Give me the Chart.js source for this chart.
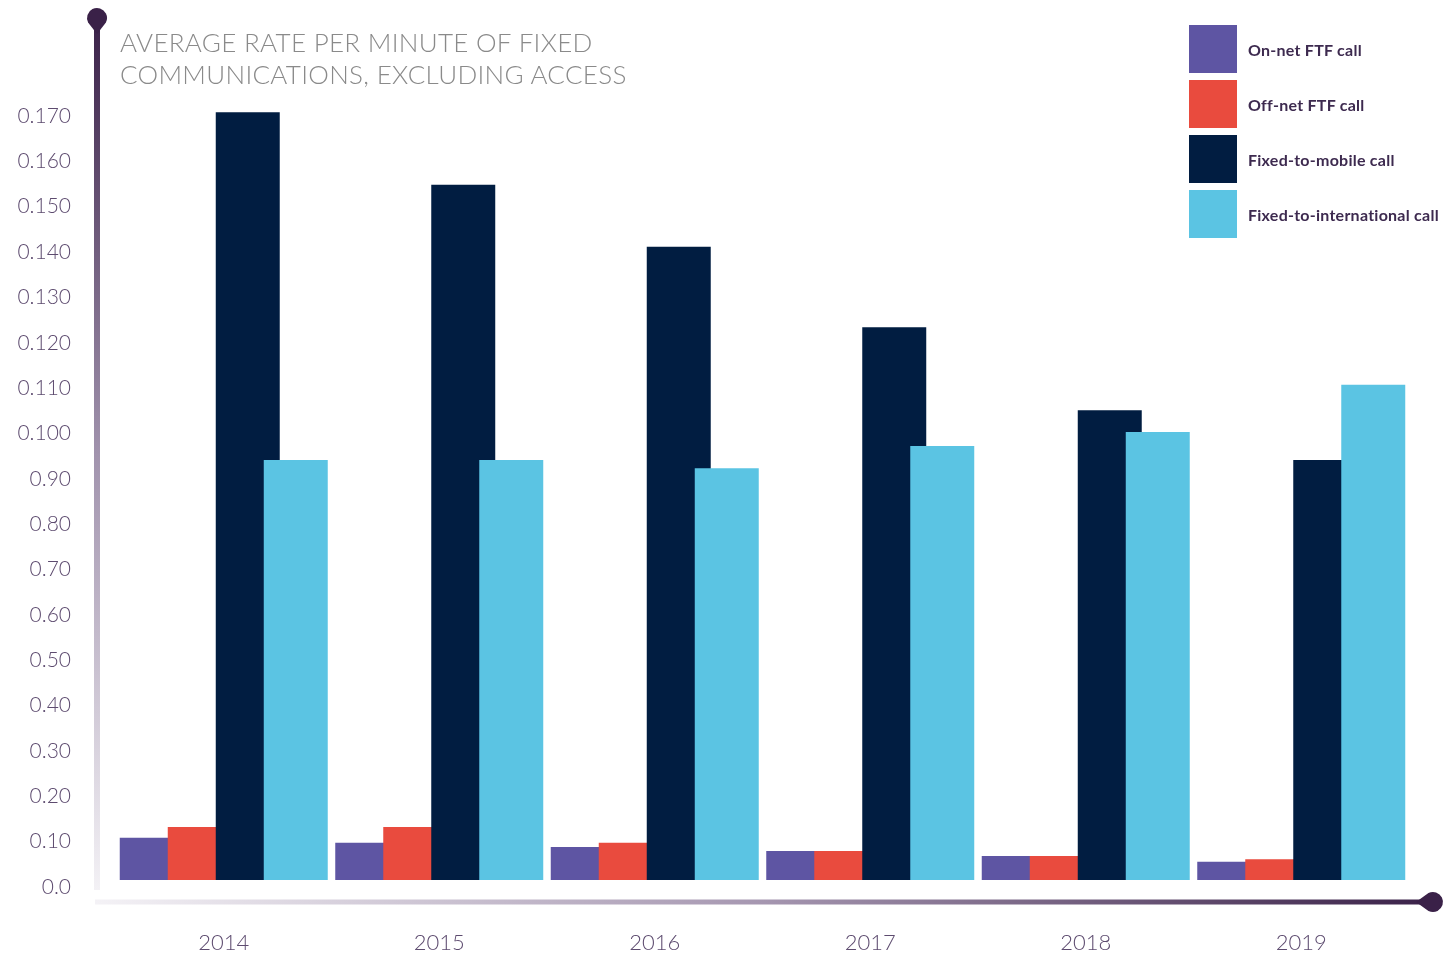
<!DOCTYPE html>
<html>
<head>
<meta charset="utf-8">
<script src="https://cdn.jsdelivr.net/npm/chart.js@4.4.1/dist/chart.umd.min.js"></script>
<style>
  body { margin: 0; background: #fff; }
  #wrap { position: relative; width: 1454px; height: 954px; }
  #chart { position: absolute; left: 0; top: 0; }
  #title {
    position: absolute; left: 120px; top: 26px;
    font-family: "Lato", sans-serif; font-weight: 300; font-size: 26px;
    line-height: 32px; color: #8a8a8a; letter-spacing: 0.3px;
  }
  #legend { position: absolute; left: 1189px; top: 25px; }
  .item { display: flex; align-items: center; height: 48px; margin-bottom: 7px; }
  .box { width: 48px; height: 48px; margin-right: 11px; }
  .lbl { font-family: "Lato", sans-serif; font-weight: 700; font-size: 16px; letter-spacing: 0.25px; color: #3d2a4f; }
</style>
</head>
<body>
<div id="wrap">
  <canvas id="chart" width="1454" height="954"></canvas>
  <div id="title">AVERAGE RATE PER MINUTE OF FIXED<br>COMMUNICATIONS, EXCLUDING ACCESS</div>
  <div id="legend"></div>
</div>
<script>
// --- te dhenat ---
const years = ["2014", "2015", "2016", "2017", "2018", "2019"];
const onNet = [0.0093, 0.0082, 0.0073, 0.0064, 0.0053, 0.0040];
const offNet = [0.0117, 0.0117, 0.0082, 0.0064, 0.0053, 0.0046];
const fixedToMobile = [0.1693, 0.1533, 0.1396, 0.1219, 0.1036, 0.0926];
const fixedToIntl = [0.0926, 0.0926, 0.0908, 0.0957, 0.0988, 0.1092];
const yTickValues = [0, 0.01, 0.02, 0.03, 0.04, 0.05, 0.06, 0.07, 0.08, 0.09, 0.10, 0.11, 0.12, 0.13, 0.14, 0.15, 0.16, 0.17];
const yTickLabels = ["0.0", "0.10", "0.20", "0.30", "0.40", "0.50", "0.60", "0.70", "0.80", "0.90",
  "0.100", "0.110", "0.120", "0.130", "0.140", "0.150", "0.160", "0.170"];

const series = [
  { label: "On-net FTF call", data: onNet, color: "#5e55a3" },
  { label: "Off-net FTF call", data: offNet, color: "#e94b3e" },
  { label: "Fixed-to-mobile call", data: fixedToMobile, color: "#011d41" },
  { label: "Fixed-to-international call", data: fixedToIntl, color: "#5bc4e3" }
];

// legjenda html
const legendDiv = document.getElementById("legend");
series.forEach(s => {
  const it = document.createElement("div");
  it.className = "item";
  it.innerHTML = `<div class="box" style="background:${s.color}"></div><div class="lbl">${s.label}</div>`;
  legendDiv.appendChild(it);
});

// boshtet me gradient + kunjat, dhe shtyllat vizatohen majtas -> djathtas
const axisDeco = {
  id: "axisDeco",
  beforeDatasetsDraw(chart) {
    const ctx = chart.ctx;
    const a = chart.chartArea;
    ctx.save();

    // boshti y
    const yx = a.left - 19, yTop = a.top - 92, yBot = a.bottom + 10;
    let g = ctx.createLinearGradient(0, yTop, 0, yBot);
    g.addColorStop(0, "#3a2148");
    g.addColorStop(0.5, "#a193ad");
    g.addColorStop(1, "#f3f1f5");
    ctx.fillStyle = g;
    ctx.fillRect(yx - 3, yTop, 6, yBot - yTop);
    ctx.fillStyle = "#3a2148";
    ctx.beginPath();
    ctx.arc(yx, yTop + 1, 10, Math.PI * 0.85, Math.PI * 2.15);
    ctx.lineTo(yx, yTop + 17);
    ctx.closePath();
    ctx.fill();

    // boshti x
    const xy = a.bottom + 22, xL = a.left - 21, xR = a.right + 24;
    g = ctx.createLinearGradient(xL, 0, xR, 0);
    g.addColorStop(0, "#f4f2f6");
    g.addColorStop(0.5, "#a596b0");
    g.addColorStop(1, "#3a2148");
    ctx.fillStyle = g;
    ctx.fillRect(xL, xy - 2.5, xR - xL, 5);
    ctx.fillStyle = "#3a2148";
    ctx.beginPath();
    ctx.arc(xR, xy, 10, Math.PI * 1.35, Math.PI * 0.65 + Math.PI * 2);
    ctx.lineTo(xR - 17, xy);
    ctx.closePath();
    ctx.fill();
    ctx.restore();

    chart.getSortedVisibleDatasetMetas().forEach(m => m.controller.draw());
    return false;
  }
};

new Chart(document.getElementById("chart"), {
  type: "bar",
  data: {
    labels: years,
    datasets: series.map(s => ({
      label: s.label,
      data: s.data,
      backgroundColor: s.color,
      borderWidth: 0,
      barPercentage: 1.333,
      categoryPercentage: 0.891
    }))
  },
  options: {
    responsive: false,
    animation: false,
    devicePixelRatio: 1,
    layout: { padding: { top: 109, right: 45, left: 0, bottom: 0 } },
    plugins: { legend: { display: false }, tooltip: { enabled: false } },
    scales: {
      x: {
        grid: { display: false, drawTicks: false },
        border: { display: false },
        ticks: {
          padding: 50,
          color: "#5d4b6f",
          font: { family: "Lato", weight: 300, size: 22 }
        },
        afterFit: s => { s.height = 74; }
      },
      y: {
        min: 0,
        max: 0.17,
        grid: { display: false, drawTicks: false },
        border: { display: false },
        afterBuildTicks: s => { s.ticks = yTickValues.map(v => ({ value: v })); },
        afterFit: s => { s.width = 116; },
        ticks: {
          padding: 45,
          labelOffset: 7,
          color: "#5d4b6f",
          font: { family: "Lato", weight: 300, size: 21 },
          callback: (v, i) => yTickLabels[i]
        }
      }
    }
  },
  plugins: [axisDeco]
});
</script>
</body>
</html>
